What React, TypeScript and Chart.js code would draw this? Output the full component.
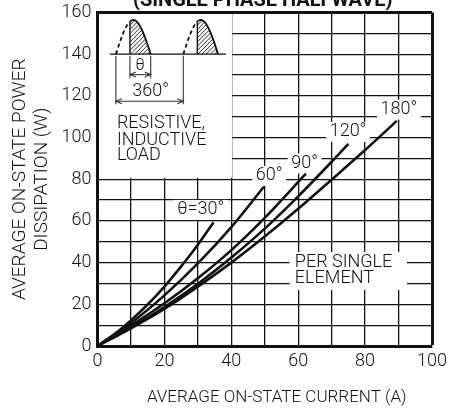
import React, { useEffect, useRef } from 'react';
import { Chart, registerables } from 'chart.js';

Chart.register(...registerables);

const FONT = 'Roboto, "Liberation Sans", Arial, sans-serif';
const INK = '#111111';
const W = '300';

// axes
const X_MIN = 0;
const X_MAX = 100;
const Y_MIN = 0;
const Y_MAX = 160;
const GRID_STEP = 10;
const LABEL_STEP = 20;

// series (current A -> power W)
const I_30 = [0, 5, 10, 15, 20, 25, 30, 34.7];
const P_30 = [0, 5.6, 12.3, 19.9, 28.5, 38.2, 48.6, 59.4];
const I_60 = [0, 10, 20, 30, 40, 49.8];
const P_60 = [0, 11, 24.3, 39.6, 57, 76.5];
const I_90 = [0, 10, 20, 30, 40, 50, 62.3];
const P_90 = [0, 9.8, 20.5, 32.5, 46, 61.5, 82.7];
const I_120 = [0, 10, 20, 30, 40, 50, 60, 70, 75];
const P_120 = [0, 8.8, 18.7, 29.8, 42.4, 56.3, 71.8, 88.4, 97];
const I_180 = [0, 10, 20, 30, 40, 50, 60, 70, 80, 89.5];
const P_180 = [0, 8.5, 17.8, 28.5, 40, 52.5, 65.8, 79.8, 94, 108];

const SERIES_I = [I_30, I_60, I_90, I_120, I_180];
const SERIES_P = [P_30, P_60, P_90, P_120, P_180];
const SERIES_LABELS = ['θ=30°', '60°', '90°', '120°', '180°'];
const LABEL_X = [30.9, 51.3, 61.9, 74.9, 90.1];
const LABEL_Y = [65.3, 81.6, 87.6, 102.7, 113.4];

const TITLE = '(SINGLE PHASE HALFWAVE)';
const X_TITLE = 'AVERAGE ON-STATE CURRENT (A)';
const Y_TITLE = ['AVERAGE ON-STATE POWER', 'DISSIPATION (W)'];
const NOTE_LINES = ['PER SINGLE', 'ELEMENT'];
const NOTE_X = 59;
const NOTE_Y = [40.1, 32.6];
const NOTE_BOX = [57.4, 92.5, 26.9, 45.1];

// inset (in data units)
const INSET_X1 = 40.2;
const INSET_Y0 = 80.7;
const LOAD_LINES = ['RESISTIVE,', 'INDUCTIVE', 'LOAD'];
const LOAD_X = 5.8;
const LOAD_Y = [106.9, 98.8, 91.5];
const BASE_Y = 140;
const BASE_X = [3.7, 38.4];
const WAVE_STARTS = [5.5, 25.65];
const WAVE_HALF = 10.4;
const WAVE_PEAK = 156.4;
const FIRE_OFFSET = 4.2;
const EXT_TOP = 139.2;
const EXT_LONG = 116;
const EXT_SHORT = 128.5;
const THETA_ARROW_Y = 130.2;
const FULL_ARROW_Y = 117.4;
const THETA_TEXT = ['θ', 12.7, 134.5];
const FULL_TEXT = ['360°', 15.9, 122.1];

function line(ctx: CanvasRenderingContext2D, x1: number, y1: number, x2: number, y2: number) {
  ctx.beginPath();
  ctx.moveTo(x1, y1);
  ctx.lineTo(x2, y2);
  ctx.stroke();
}

function arrowHead(ctx: CanvasRenderingContext2D, x: number, y: number, dir: number) {
  ctx.beginPath();
  ctx.moveTo(x + dir * 6, y - 2.5);
  ctx.lineTo(x, y);
  ctx.lineTo(x + dir * 6, y + 2.5);
  ctx.stroke();
}

function dimArrow(ctx: CanvasRenderingContext2D, xa: number, xb: number, y: number) {
  line(ctx, xa, y, xb, y);
  arrowHead(ctx, xa, y, 1);
  arrowHead(ctx, xb, y, -1);
}

const overlay = {
  id: 'overlay',
  beforeDatasetsDraw(chart: any) {
    const { ctx, chartArea } = chart;
    const xs = chart.scales.x;
    const ys = chart.scales.y;
    const px = (v: number) => xs.getPixelForValue(v);
    const py = (v: number) => ys.getPixelForValue(v);
    ctx.save();
    ctx.fillStyle = '#ffffff';
    const l = chartArea.left + 1.5;
    const t = chartArea.top + 1.5;
    ctx.fillRect(l, t, px(INSET_X1) - l, py(INSET_Y0) - t);

    ctx.font = `${W} 18px ${FONT}`;
    SERIES_LABELS.forEach((s, i) => {
      const w = ctx.measureText(s).width + 7;
      ctx.fillRect(px(LABEL_X[i]) - w / 2, py(LABEL_Y[i]) - 10, w, 20);
    });
    ctx.fillRect(px(NOTE_BOX[0]), py(NOTE_BOX[3]), px(NOTE_BOX[1]) - px(NOTE_BOX[0]), py(NOTE_BOX[2]) - py(NOTE_BOX[3]));

    // inset sketch
    ctx.strokeStyle = INK;
    ctx.lineWidth = 1.3;
    const yb = py(BASE_Y);
    line(ctx, px(BASE_X[0]), yb, px(BASE_X[1]), yb);
    WAVE_STARTS.forEach((s) => {
      const x0 = px(s);
      const x1 = px(s + WAVE_HALF);
      const fx = px(s + FIRE_OFFSET);
      const h = yb - py(WAVE_PEAK);
      const curve = (X: number) => yb - h * Math.sin((Math.PI * (X - x0)) / (x1 - x0));
      // hatch
      ctx.save();
      ctx.beginPath();
      ctx.moveTo(fx, yb);
      for (let X = fx; X <= x1; X += 0.5) ctx.lineTo(X, curve(X));
      ctx.lineTo(x1, yb);
      ctx.closePath();
      ctx.clip();
      ctx.lineWidth = 0.9;
      for (let k = -50; k < 30; k += 4.2) line(ctx, fx + k, yb, fx + k + 40, yb - 40);
      ctx.restore();
      // dashed rising part
      ctx.lineWidth = 1.8;
      ctx.setLineDash([4, 3]);
      ctx.beginPath();
      ctx.moveTo(x0, yb);
      for (let X = x0; X <= fx; X += 0.5) ctx.lineTo(X, curve(X));
      ctx.stroke();
      ctx.setLineDash([]);
      // solid conducting part
      ctx.beginPath();
      ctx.moveTo(fx, curve(fx));
      for (let X = fx; X <= x1; X += 0.5) ctx.lineTo(X, curve(X));
      ctx.lineTo(x1, yb);
      ctx.stroke();
      ctx.lineWidth = 1.4;
      line(ctx, fx, yb, fx, curve(fx));
    });
    // dimension lines
    ctx.lineWidth = 1.1;
    ctx.strokeStyle = '#333';
    const s0 = WAVE_STARTS[0];
    const s1 = WAVE_STARTS[1];
    line(ctx, px(s0), py(EXT_TOP), px(s0), py(EXT_LONG));
    line(ctx, px(s1), py(EXT_TOP), px(s1), py(EXT_LONG));
    line(ctx, px(s0 + FIRE_OFFSET), py(EXT_TOP), px(s0 + FIRE_OFFSET), py(EXT_SHORT));
    line(ctx, px(s0 + WAVE_HALF), py(EXT_TOP), px(s0 + WAVE_HALF), py(EXT_SHORT));
    dimArrow(ctx, px(s0 + FIRE_OFFSET), px(s0 + WAVE_HALF), py(THETA_ARROW_Y));
    dimArrow(ctx, px(s0), px(s1), py(FULL_ARROW_Y));
    ctx.restore();
  },
  afterDatasetsDraw(chart: any) {
    const { ctx, chartArea } = chart;
    const xs = chart.scales.x;
    const ys = chart.scales.y;
    const px = (v: number) => xs.getPixelForValue(v);
    const py = (v: number) => ys.getPixelForValue(v);
    ctx.save();
    ctx.fillStyle = INK;
    ctx.textBaseline = 'middle';
    ctx.textAlign = 'center';
    ctx.font = `${W} 18px ${FONT}`;
    SERIES_LABELS.forEach((s, i) => ctx.fillText(s, px(LABEL_X[i]), py(LABEL_Y[i])));
    ctx.fillText(FULL_TEXT[0] as string, px(FULL_TEXT[1] as number), py(FULL_TEXT[2] as number));
    ctx.font = `${W} 16px ${FONT}`;
    ctx.fillText(THETA_TEXT[0] as string, px(THETA_TEXT[1] as number), py(THETA_TEXT[2] as number));
    ctx.textAlign = 'left';
    ctx.font = `${W} 18px ${FONT}`;
    NOTE_LINES.forEach((s, i) => ctx.fillText(s, px(NOTE_X), py(NOTE_Y[i])));
    LOAD_LINES.forEach((s, i) => ctx.fillText(s, px(LOAD_X), py(LOAD_Y[i])));
    // chart title (cut at top)
    ctx.textAlign = 'center';
    ctx.textBaseline = 'alphabetic';
    ctx.font = `bold 20px ${FONT}`;
    ctx.fillText(TITLE, (chartArea.left + chartArea.right) / 2 - 2, chartArea.top - 6.5);
    // x axis title
    ctx.textBaseline = 'middle';
    ctx.font = `${W} 17px ${FONT}`;
    ctx.fillText(X_TITLE, (chartArea.left + chartArea.right) / 2 + 12, chartArea.bottom + 52);
    ctx.restore();
  },
};

export default function App() {
  const ref = useRef<HTMLCanvasElement>(null);
  useEffect(() => {
    if (!ref.current) return;
    const gridWidth = (max: number) => (c: any) => (c.tick && c.tick.value === max ? 3 : 1.3);
    const chart = new Chart(ref.current, {
      type: 'line',
      data: {
        datasets: SERIES_I.map((xs, k) => ({
          label: SERIES_LABELS[k],
          data: xs.map((v, i) => ({ x: v, y: SERIES_P[k][i] })),
          borderColor: INK,
          borderWidth: 2.6,
          pointRadius: 0,
          tension: 0.4,
          cubicInterpolationMode: 'monotone' as const,
          fill: false,
        })),
      },
      options: {
        responsive: false,
        animation: false,
        devicePixelRatio: 1,
        layout: { padding: { top: 12.5, right: 18, bottom: 0, left: 0 } },
        plugins: { legend: { display: false }, tooltip: { enabled: false }, title: { display: false } },
        scales: {
          x: {
            type: 'linear',
            min: X_MIN,
            max: X_MAX,
            afterFit: (s: any) => {
              s.height = 64;
              s.paddingLeft = 0;
              s.paddingRight = 0;
            },
            ticks: {
              stepSize: GRID_STEP,
              padding: 5,
              color: INK,
              font: { family: FONT, size: 18, weight: W },
              maxRotation: 0,
              autoSkip: false,
              callback: (v: any) => (Number(v) % LABEL_STEP === 0 ? String(v) : ''),
            },
            grid: { color: INK, lineWidth: gridWidth(X_MAX), drawTicks: false },
            border: { display: true, color: INK, width: 3 },
          },
          y: {
            type: 'linear',
            min: Y_MIN,
            max: Y_MAX,
            afterFit: (s: any) => {
              s.width = 97.5;
              s.paddingTop = 0;
              s.paddingBottom = 0;
            },
            ticks: {
              stepSize: GRID_STEP,
              padding: 6,
              color: INK,
              font: { family: FONT, size: 18, weight: W },
              autoSkip: false,
              callback: (v: any) => (Number(v) % LABEL_STEP === 0 ? String(v) : ''),
            },
            grid: { color: INK, lineWidth: gridWidth(Y_MAX), drawTicks: false },
            border: { display: true, color: INK, width: 3 },
            title: {
              display: true,
              text: Y_TITLE,
              color: INK,
              font: { family: FONT, size: 19, lineHeight: 1.12, weight: W },
              padding: { top: 10, bottom: 0 },
            },
          },
        },
      },
      plugins: [overlay],
    });
    return () => chart.destroy();
  }, []);
  return (
    <div style={{ position: 'fixed', left: 0, top: 0, width: 450, height: 410, background: '#fff' }}>
      <canvas ref={ref} width={450} height={410} />
    </div>
  );
}
